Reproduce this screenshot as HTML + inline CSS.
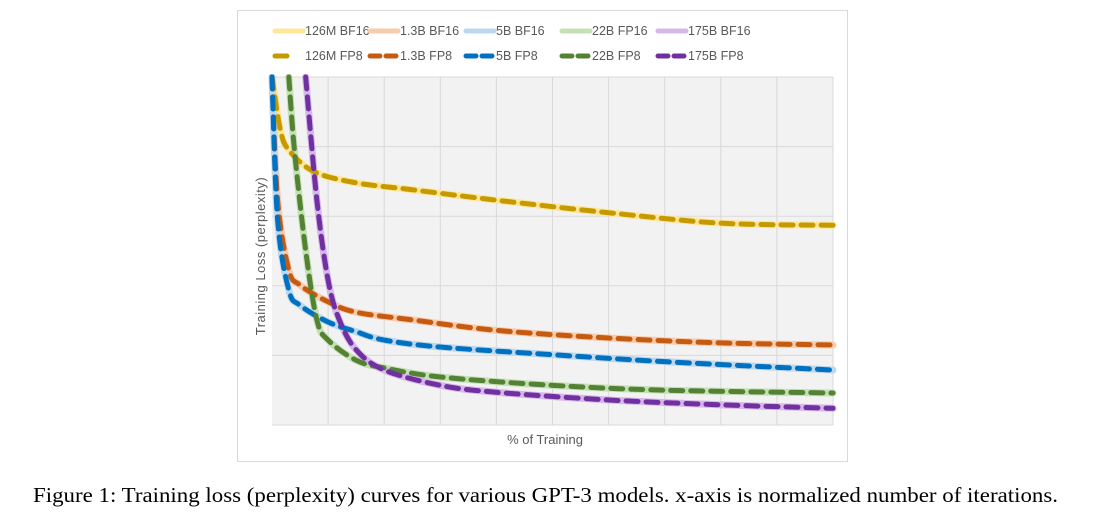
<!DOCTYPE html>
<html><head><meta charset="utf-8"><style>
body{margin:0;background:#fff;width:1094px;height:514px;overflow:hidden;font-family:"Liberation Sans",sans-serif}
svg{position:absolute;left:0;top:0}
</style></head><body>
<svg width="1094" height="514">
<defs><clipPath id="pc"><rect x="268" y="74" width="570" height="354"/></clipPath></defs>
<rect x="237.5" y="10.5" width="610" height="451" fill="#fff" stroke="#d9d9d9"/>
<rect x="272" y="77" width="561" height="348" fill="#f2f2f2"/>
<g id="grid"></g>
<g id="series" clip-path="url(#pc)"></g>
<g id="legend"></g>
<text x="265" y="256" transform="rotate(-90 265 256)" text-anchor="middle" font-size="13" fill="#595959" letter-spacing="0.5">Training Loss (perplexity)</text>
<text x="545" y="444" text-anchor="middle" font-size="13" fill="#595959">% of Training</text>
<text x="33" y="502" textLength="1025" lengthAdjust="spacingAndGlyphs" font-size="21" font-family="Liberation Serif,serif" fill="#000">Figure 1: Training loss (perplexity) curves for various GPT-3 models. x-axis is normalized number of iterations.</text>
</svg>
<script>
const names=["126M","1.3B","5B","22B","175B"];
const bfLabels=["126M BF16","1.3B BF16","5B BF16","22B FP16","175B BF16"];
const fpLabels=["126M FP8","1.3B FP8","5B FP8","22B FP8","175B FP8"];
const xs126=[0,1.5,3,7.5,15,25,40,60,80,100];
const ys126=[5,4.24,3.95,3.64,3.48,3.38,3.23,3.05,2.9,2.87];
const xs13=[0,1,3,5,10,15,25,40,60,80,100];
const ys13=[5,3.23,2.23,2.01,1.77,1.62,1.51,1.36,1.25,1.18,1.15];
const xs5=[0,1,3,5,10,15,20,30,50,70,100];
const ys5=[5,2.95,1.94,1.72,1.48,1.34,1.22,1.12,1.01,0.91,0.79];
const xs22=[3,4,6,8,10,15,20,30,50,70,100];
const ys22=[5,3.95,2.51,1.51,1.22,0.93,0.82,0.69,0.57,0.5,0.46];
const xs175=[6,8,10,12,15,20,30,40,60,80,100];
const ys175=[5,3.23,2.08,1.51,1.08,0.79,0.57,0.47,0.36,0.29,0.24];
const seriesX=[xs126,xs13,xs5,xs22,xs175];
const seriesY=[ys126,ys13,ys5,ys22,ys175];
const bfColors=["#ffe699","#f8cbad","#bdd7ee","#c5e0b4","#d5b8ea"];
const fpColors=["#c49a00","#c55a11","#0070c0","#548235","#7030a0"];
const NS="http://www.w3.org/2000/svg";
const X0=272,X1=833,Y0=425,Y1=77;
const sx=v=>X0+(v/100)*(X1-X0);
const sy=v=>Y0-(v/5)*(Y0-Y1);
function mk(t,a,p){const e=document.createElementNS(NS,t);for(const k in a)e.setAttribute(k,a[k]);p.appendChild(e);return e;}
const grid=document.getElementById('grid');
for(let i=1;i<=10;i++){const l=mk('line',{x1:sx(i*10),x2:sx(i*10),y1:Y1,y2:Y0,stroke:'#d9d9d9'},grid);

}
for(let i=0;i<=5;i++){const l=mk('line',{x1:X0,x2:X1,y1:sy(i),y2:sy(i),stroke:'#d9d9d9'},grid);

}
function pathD(xa,ya){const p=xa.map((x,i)=>[sx(x),sy(ya[i])]);let d=`M${p[0][0]},${p[0][1]}`;
for(let i=0;i<p.length-1;i++){const a=p[Math.max(i-1,0)],b=p[i],c=p[i+1],e=p[Math.min(i+2,p.length-1)];
d+=` C${b[0]+(c[0]-a[0])/6},${b[1]+(c[1]-a[1])/6} ${c[0]-(e[0]-b[0])/6},${c[1]-(e[1]-b[1])/6} ${c[0]},${c[1]}`;}return d;}
const sg=document.getElementById('series');
for(let i=0;i<5;i++){const p=mk('path',{d:pathD(seriesX[i],seriesY[i]),fill:'none',stroke:bfColors[i],'stroke-width':7,'stroke-linecap':'round'},sg);

}
for(let i=0;i<5;i++){const p=mk('path',{d:pathD(seriesX[i],seriesY[i]),fill:'none',stroke:fpColors[i],'stroke-width':5,'stroke-dasharray':'12 8','stroke-linecap':'round'},sg);

}
const lg=document.getElementById('legend');
const lx=[273,368,464,560,656];
for(let i=0;i<5;i++){
const g1=mk('g',{},lg);


mk('line',{x1:lx[i]+2,x2:lx[i]+30,y1:31,y2:31,stroke:bfColors[i],'stroke-width':5,'stroke-linecap':'round'},g1);
const t1=mk('text',{x:lx[i]+32,y:35,'font-size':12.5,fill:'#595959'},g1);t1.textContent=bfLabels[i];
const g2=mk('g',{},lg);


if(i==0){mk('line',{x1:lx[i]+2,x2:lx[i]+14,y1:56,y2:56,stroke:fpColors[i],'stroke-width':5,'stroke-linecap':'round'},g2);}
else{mk('line',{x1:lx[i]+2,x2:lx[i]+30,y1:56,y2:56,stroke:fpColors[i],'stroke-width':5,'stroke-dasharray':'10 6','stroke-linecap':'round'},g2);}
const t2=mk('text',{x:lx[i]+32,y:60,'font-size':12.5,fill:'#595959'},g2);t2.textContent=fpLabels[i];}
</script>
</body></html>
